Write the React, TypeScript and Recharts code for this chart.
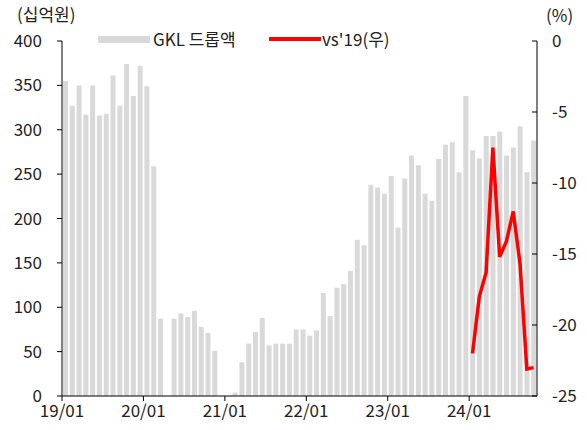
import React from "react";
import { Bar, ComposedChart, Line, XAxis, YAxis } from "recharts";

// 2019/01 ~ 2024/10, monthly
const years = ["19", "20", "21", "22", "23", "24"];
const months = years.flatMap((y) =>
  ["01", "02", "03", "04", "05", "06", "07", "08", "09", "10", "11", "12"].map((m) => `${y}/${m}`)
).slice(0, 70);

// GKL drop amount (KRW bn), null = closed
const dropAmount: (number | null)[] = [
  355, 327, 350, 317, 350, 316, 318, 361, 327, 374, 338, 372,
  349, 259, 87, null, 87, 93, 89, 96, 78, 71, 51, null,
  null, 4, 38, 59, 72, 88, 57, 59, 59, 59, 75, 75,
  68, 74, 116, 90, 122, 126, 141, 176, 170, 238, 235, 228,
  248, 190, 245, 271, 260, 228, 220, 267, 283, 286, 252, 338,
  277, 268, 293, 293, 298, 271, 280, 304, 252, 288,
];

// vs 2019 (%), only from 2024/01
const vs19: (number | null)[] = [
  ...Array(60).fill(null),
  -22.0, -18.0, -16.3, -7.5, -15.2, -14.1, -12.0, -15.7, -23.1, -23.0,
];

const leftTicks = [0, 50, 100, 150, 200, 250, 300, 350, 400];
const rightTicks = [0, -5, -10, -15, -20, -25];

const data = months.map((month, i) => ({ month, drop: dropAmount[i], vs: vs19[i] }));

const WIDTH = 587;
const HEIGHT = 430;
const LEFT_W = 62;
const RIGHT_W = 50;
const PLOT_W = WIDTH - LEFT_W - RIGHT_W;
const BAND = PLOT_W / months.length;
const FONT = "'Noto Sans CJK KR', 'Noto Sans', sans-serif";
const TEXT = "#222";

function MonthTick(props: any) {
  const { x, y, payload } = props;
  const label: string = payload.value;
  if (!label.endsWith("/01")) return <g />;
  const tx = x - BAND / 2;
  return (
    <g>
      <line x1={tx} x2={tx} y1={y - 9} y2={y - 4} stroke="#000" />
      <text x={tx} y={y} dy="0.71em" textAnchor="middle" fill={TEXT} fontSize={17} fontFamily={FONT}>
        {label}
      </text>
    </g>
  );
}

function RightTick(props: any) {
  const { x, y, payload } = props;
  return (
    <g>
      <line x1={x - 20} x2={x - 15} y1={y} y2={y} stroke="#000" />
      <text x={x} y={y} dy="0.35em" textAnchor="start" fill={TEXT} fontSize={17} fontFamily={FONT}>
        {payload.value}
      </text>
    </g>
  );
}

const textStyle: React.CSSProperties = {
  position: "absolute",
  fontSize: 17,
  lineHeight: "20px",
  fontFamily: FONT,
  color: TEXT,
  whiteSpace: "nowrap",
};

export default function App() {
  return (
    <div style={{ position: "absolute", left: 0, top: 0, width: WIDTH, height: HEIGHT, background: "#fff" }}>
      <ComposedChart width={WIDTH} height={HEIGHT} data={data} margin={{ top: 41, right: 0, bottom: 0, left: 0 }}>
        <XAxis
          dataKey="month"
          interval={0}
          height={34}
          tickLine={false}
          tickSize={5}
          tickMargin={4}
          axisLine={{ stroke: "#000" }}
          tick={<MonthTick />}
        />
        <YAxis
          yAxisId="left"
          domain={[0, 400]}
          ticks={leftTicks}
          width={LEFT_W}
          tickSize={5}
          tickMargin={15}
          axisLine={{ stroke: "#000" }}
          tickLine={{ stroke: "#000" }}
          tick={{ fill: TEXT, fontSize: 17, fontFamily: FONT }}
        />
        <YAxis
          yAxisId="right"
          orientation="right"
          domain={[-25, 0]}
          ticks={rightTicks}
          width={RIGHT_W}
          tickSize={0}
          tickMargin={15}
          tickLine={false}
          axisLine={{ stroke: "#000" }}
          tick={<RightTick />}
        />
        <Bar yAxisId="left" dataKey="drop" name="GKL 드롭액" fill="#d9d9d9" barSize={5} isAnimationActive={false} />
        <Line
          yAxisId="right"
          dataKey="vs"
          name="vs'19(우)"
          type="linear"
          stroke="#ff0000"
          strokeWidth={3.5}
          dot={false}
          activeDot={false}
          isAnimationActive={false}
        />
      </ComposedChart>

      <div style={{ ...textStyle, left: 17, top: 4 }}>(십억원)</div>
      <div style={{ ...textStyle, left: 546, top: 5 }}>(%)</div>

      <div style={{ position: "absolute", left: 98, top: 36, width: 52, height: 7, background: "#d9d9d9" }} />
      <div style={{ ...textStyle, left: 153, top: 29 }}>GKL 드롭액</div>
      <div style={{ position: "absolute", left: 269, top: 37, width: 52, height: 4, background: "#ff0000" }} />
      <div style={{ ...textStyle, left: 322, top: 29 }}>vs'19(우)</div>
    </div>
  );
}
